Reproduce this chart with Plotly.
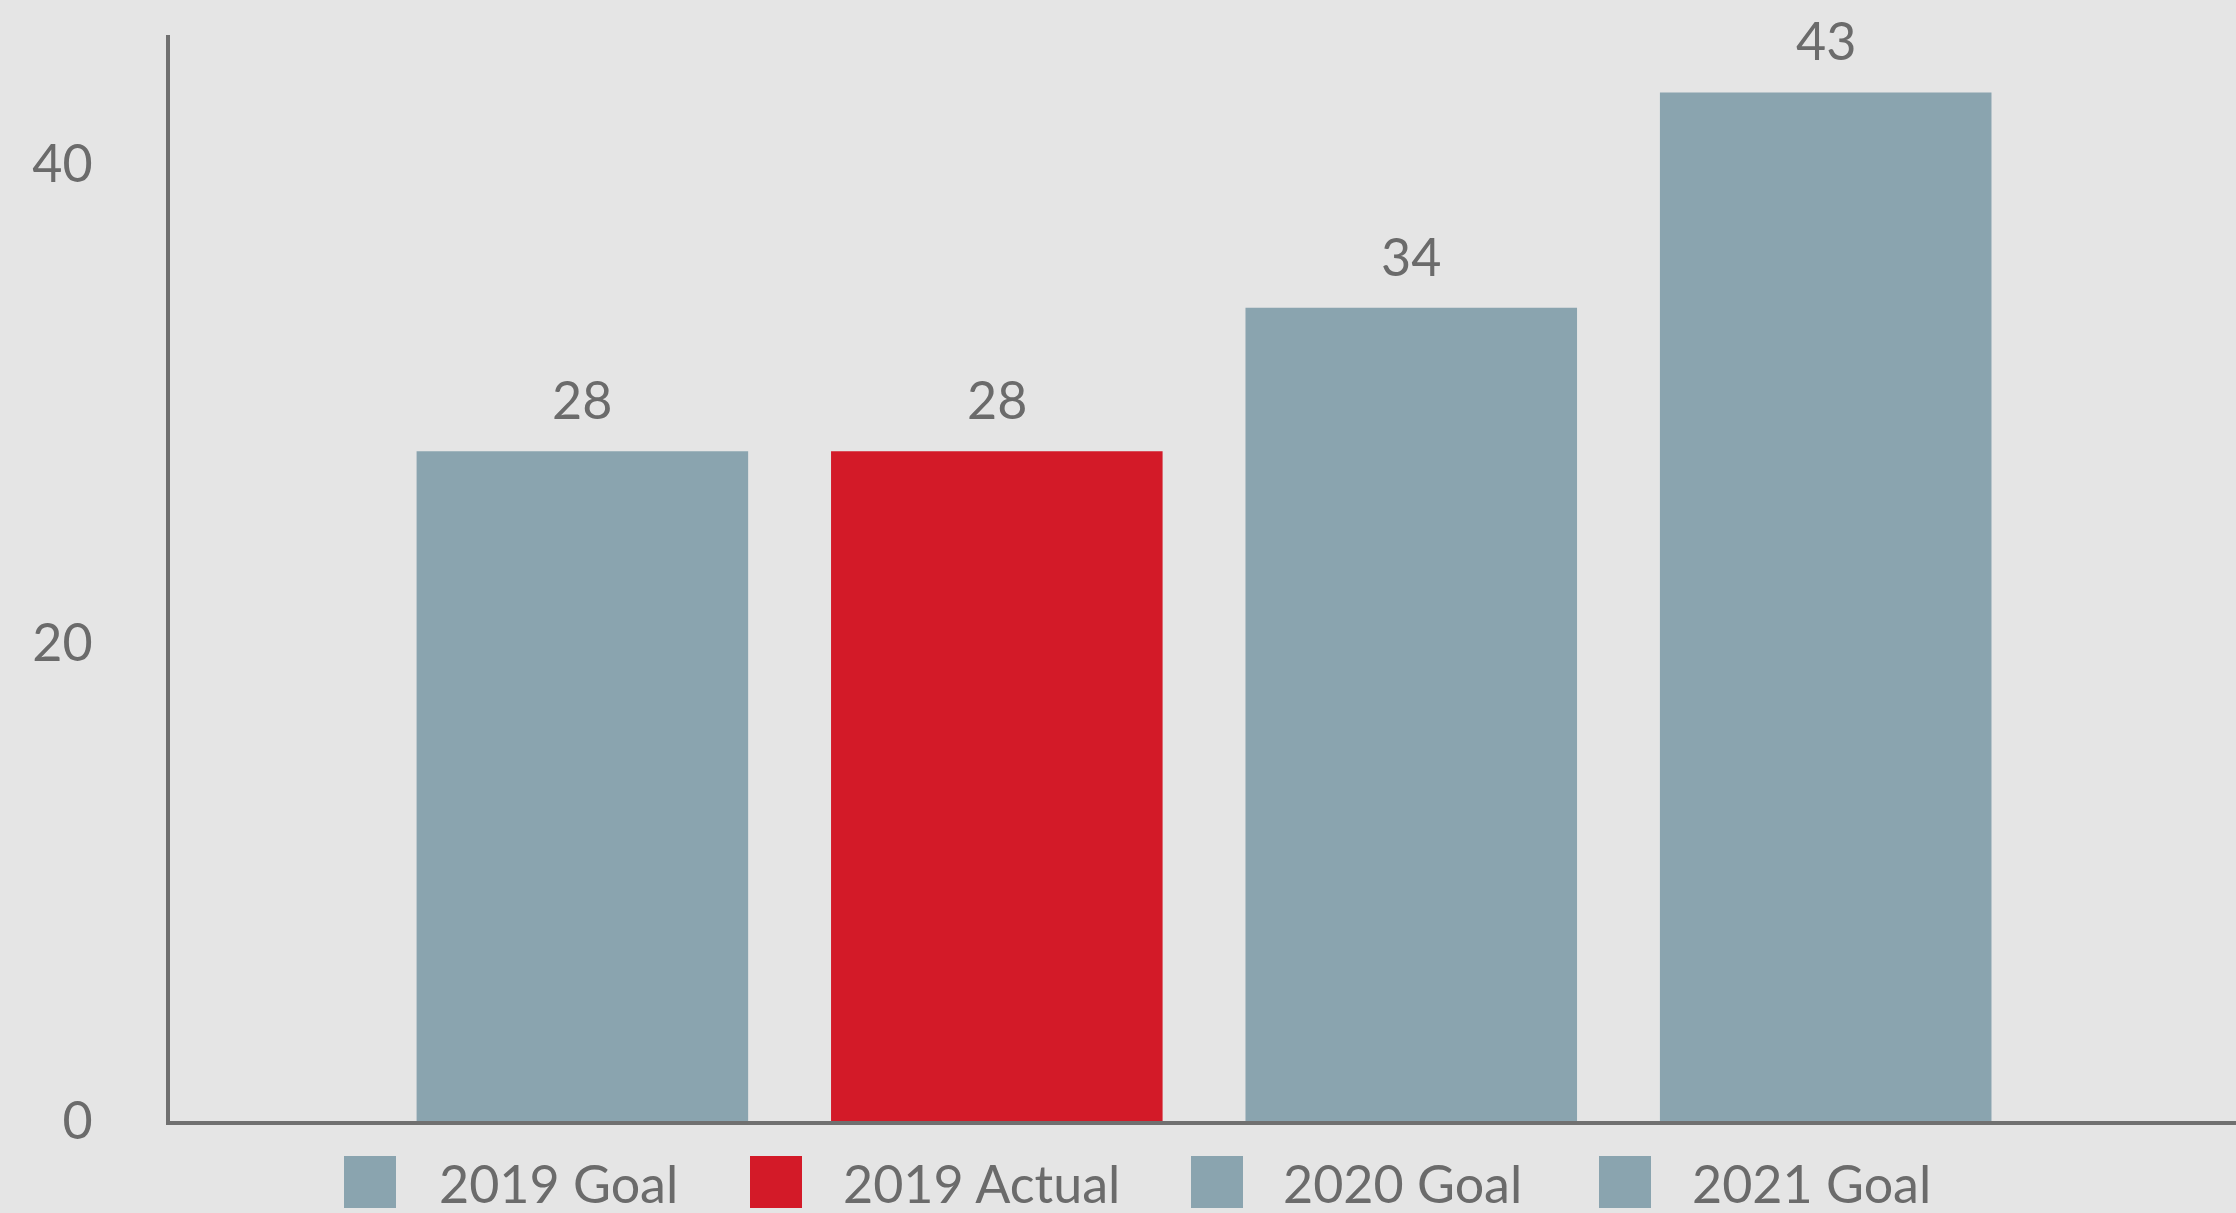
import plotly.graph_objects as go

# ---- data ----
categories = ["2019 Goal", "2019 Actual", "2020 Goal", "2021 Goal"]
values = [28, 28, 34, 43]
colors = ["#8AA4AF", "#D31A28", "#8AA4AF", "#8AA4AF"]
y_tickvals = [0, 20, 40]

# ---- layout constants ----
W, H = 2236, 1213
ML, MR, MT, MB = 170, 0, 35, 92
FONT = "Lato"
TXT = "#6B6B6B"
BG = "#E5E5E5"

pw = W - ML - MR
ph = H - MT - MB


def px_x(p):
    return (p - ML) / pw


def px_y(p):
    return (H - MB - p) / ph


fig = go.Figure()
for cat, val, col in zip(categories, values, colors):
    fig.add_trace(go.Bar(
        x=[cat], y=[val], name=cat, width=0.8,
        marker=dict(color=col, line=dict(width=0)),
        showlegend=False, hoverinfo="skip",
    ))

annotations = []
for cat, val in zip(categories, values):
    annotations.append(dict(
        x=cat, y=val, xref="x", yref="y", text=str(val), showarrow=False,
        yanchor="middle", xanchor="center", yshift=52,
        font=dict(family=FONT, size=52, color=TXT),
    ))

# manual legend (large swatches)
legend_square_px = [344, 750, 1191, 1599]
legend_text_px = [437, 841, 1281, 1690]
shapes = []
for cat, col, sx, tx in zip(categories, colors, legend_square_px, legend_text_px):
    shapes.append(dict(
        type="rect", xref="paper", yref="paper",
        x0=px_x(sx), x1=px_x(sx + 52), y0=px_y(1208), y1=px_y(1156),
        fillcolor=col, line=dict(width=0), layer="above",
    ))
    annotations.append(dict(
        x=px_x(tx), y=px_y(1183), xref="paper", yref="paper", text=cat,
        showarrow=False, xanchor="left", yanchor="middle",
        font=dict(family=FONT, size=52, color=TXT),
    ))

fig.update_layout(
    width=W, height=H,
    margin=dict(l=ML, r=MR, t=MT, b=MB, pad=0),
    paper_bgcolor=BG, plot_bgcolor=BG,
    barmode="overlay",
    showlegend=False,
    annotations=annotations,
    shapes=shapes,
    font=dict(family=FONT, size=52, color=TXT),
)
fig.update_xaxes(
    type="category", categoryorder="array", categoryarray=categories,
    range=[-0.995, 3.99], showticklabels=False, showgrid=False, zeroline=False,
    showline=True, linecolor="#707070", linewidth=4, ticks="",
)
fig.update_yaxes(
    range=[0, 45.4], tickvals=y_tickvals, showgrid=False, zeroline=False,
    showline=True, linecolor="#707070", linewidth=4, ticks="",
    ticklabelstandoff=63,
    tickfont=dict(family=FONT, size=52, color=TXT),
)

fig.write_html(
    "out.html",
    config={"displayModeBar": False, "staticPlot": True},
    post_script="document.body.style.margin='0';document.body.style.overflow='hidden';",
)
